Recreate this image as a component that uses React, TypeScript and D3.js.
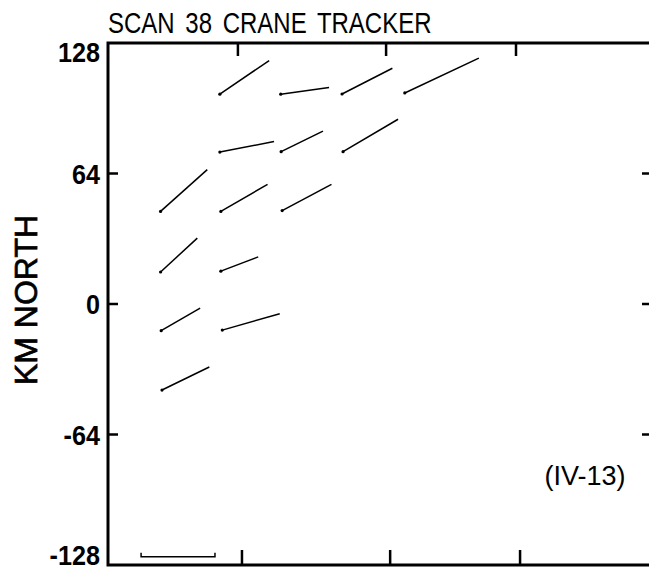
import * as d3 from 'd3';

// tracked displacement segments (km east / km north), start -> end
const startEast = [55.1, 85.1, 115.3, 146.2, 55.1, 85.3, 115.8, 25.9, 55.6, 85.8, 25.9, 55.6, 26.2, 56.3, 26.6];
const startNorth = [102.9, 102.9, 103.0, 103.5, 74.5, 74.7, 74.7, 45.4, 45.4, 45.8, 15.7, 16.1, -13.1, -12.8, -42.2];
const endEast = [79.4, 108.9, 140.1, 182.7, 81.8, 105.9, 142.9, 48.9, 78.6, 110.1, 44.0, 74.0, 45.4, 84.6, 49.9];
const endNorth = [119.4, 106.2, 115.6, 120.6, 79.7, 84.8, 90.6, 65.9, 58.7, 58.7, 32.3, 23.1, -2.0, -4.8, -30.9];

const yTicks = [128, 64, 0, -64, -128];
const topTicks = [64, 137, 201];
const bottomTicks = [66, 139, 203];
const scaleBar = [16.3, 52.7]; // km east, drawn near bottom
const scaleBarNorth = -124;

export default function App() {
  const width = 649;
  const height = 570;

  const x = d3.scaleLinear().domain([0, 268]).range([108, 652]);
  const y = d3.scaleLinear().domain([-128, 128]).range([565, 43]);

  const x0 = x(0), x1 = x(268), y0 = y(-128), y1 = y(128);

  const segs = startEast.map((e, i) => ({
    x1: x(e), y1: y(startNorth[i]), x2: x(endEast[i]), y2: y(endNorth[i]),
  }));

  const font = 'Liberation Sans, Arial, Helvetica, sans-serif';

  // labels at the ends sit just inside the frame
  const labelY = (t: number) => {
    if (t === 128) return y(t) + 19;
    if (t === -128) return y(t);
    return y(t) + 10;
  };

  return (
    <>
      <style>{`body{margin:0}`}</style>
      <svg width={width} height={height} style={{ display: 'block', background: '#fff' }}>
        {/* title */}
        <text transform="translate(108, 33) scale(0.8, 1)" fontFamily={font} fontSize={30} wordSpacing={5} fill="#000">
          SCAN 38 CRANE TRACKER
        </text>

        {/* frame */}
        <path
          d={`M${x0},${y0} L${x0},${y1} L${x1},${y1} L${x1},${y0} Z`}
          fill="none" stroke="#000" strokeWidth={3}
        />

        {/* y ticks left and right */}
        {yTicks.slice(1, 4).map(t => (
          <g key={'yt' + t}>
            <line x1={x0} x2={x0 + 10} y1={y(t)} y2={y(t)} stroke="#000" strokeWidth={2.5} />
            <line x1={x1 - 10} x2={x1} y1={y(t)} y2={y(t)} stroke="#000" strokeWidth={2.5} />
          </g>
        ))}
        {yTicks.map(t => (
          <text key={'yl' + t} transform={`translate(${x0 - 8}, ${labelY(t)}) scale(0.9, 1)`} textAnchor="end"
            fontFamily={font} fontSize={28} fontWeight="bold" fill="#000">
            {t}
          </text>
        ))}

        {/* x ticks */}
        {topTicks.map(t => (
          <line key={'tt' + t} x1={x(t)} x2={x(t)} y1={y1} y2={y1 + 13} stroke="#000" strokeWidth={2.5} />
        ))}
        {bottomTicks.map(t => (
          <line key={'bt' + t} x1={x(t)} x2={x(t)} y1={y0} y2={y0 - 15} stroke="#000" strokeWidth={2.5} />
        ))}

        {/* scale bar */}
        <path
          d={`M${x(scaleBar[0])},${y(scaleBarNorth) - 4} L${x(scaleBar[0])},${y(scaleBarNorth)} L${x(scaleBar[1])},${y(scaleBarNorth)} L${x(scaleBar[1])},${y(scaleBarNorth) - 4}`}
          fill="none" stroke="#000" strokeWidth={1.5}
        />

        {/* segments */}
        {segs.map((s, i) => (
          <g key={'s' + i}>
            <line x1={s.x1} y1={s.y1} x2={s.x2} y2={s.y2} stroke="#000" strokeWidth={1.5} />
            <circle cx={s.x1} cy={s.y1} r={1.6} fill="#000" />
          </g>
        ))}

        {/* axis label */}
        <text transform={`translate(37, ${y(0) - 4}) rotate(-90)`} textAnchor="middle"
          fontFamily={font} fontSize={32} fill="#000" stroke="#000" strokeWidth={0.7}>
          KM NORTH
        </text>

        <text x={585} y={485} textAnchor="middle" fontFamily={font} fontSize={27} fill="#000">
          (IV-13)
        </text>
      </svg>
    </>
  );
}
